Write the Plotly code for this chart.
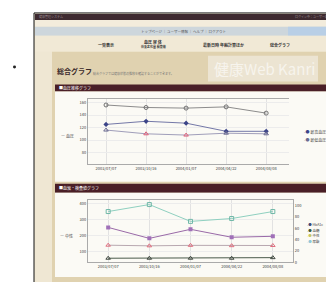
import plotly.graph_objects as go
from plotly.subplots import make_subplots

W, H = 334, 282

# ---- data ----
dates = ["2003/07/07", "2003/10/16", "2004/01/07", "2004/04/22", "2004/08/08"]
bp_top = [156, 152, 151, 153, 143]
bp_high = [125, 130, 127, 114, 114]
bp_low = [116, 110, 108, 111, 110]
bp_left_ticks = [80, 100, 120, 140, 160]
bp_right_ticks = [0, 30, 60, 90, 120]
lab_a = [350, 394, 288, 306, 350]
lab_b = [250, 181, 238, 188, 194]
lab_c = [138, 134, 137, 135, 136]
lab_d = [7, 7, 7, 7, 8]
lab_left_ticks = [100, 200, 300, 400]
lab_right_ticks = [0, 20, 40, 60, 80, 100]
top_legend = ["最高血圧", "最低血圧"]
bot_legend = ["HbA1c", "血糖", "中性", "尿酸"]


def px(x):
    return x / W


def py(y):
    return 1 - y / H


fig = make_subplots(rows=2, cols=1,
                    specs=[[{"secondary_y": True}], [{"secondary_y": True}]])

# top chart
fig.add_trace(go.Scatter(x=dates, y=bp_top, mode="lines+markers",
                         line=dict(color="#8c8c8c", width=1),
                         marker=dict(symbol="circle-open", size=4, color="#707070")),
              row=1, col=1, secondary_y=False)
fig.add_trace(go.Scatter(x=dates, y=bp_high, mode="lines+markers",
                         line=dict(color="#7478a8", width=1),
                         marker=dict(symbol="diamond", size=4, color="#3c4488")),
              row=1, col=1, secondary_y=False)
fig.add_trace(go.Scatter(x=dates, y=bp_low, mode="lines+markers",
                         line=dict(color="#a09eba", width=1),
                         marker=dict(symbol="triangle-up-open", size=4,
                                     color=["#6a6a90", "#e0607a", "#e0607a", "#6a6a90", "#6a6a90"])),
              row=1, col=1, secondary_y=False)

# bottom chart
fig.add_trace(go.Scatter(x=dates, y=lab_a, mode="lines+markers",
                         line=dict(color="#8fd0c0", width=1),
                         marker=dict(symbol="square-open", size=4, color="#70b8a8")),
              row=2, col=1, secondary_y=False)
fig.add_trace(go.Scatter(x=dates, y=lab_b, mode="lines+markers",
                         line=dict(color="#9a6aa8", width=1),
                         marker=dict(symbol="square", size=4, color="#a070b8")),
              row=2, col=1, secondary_y=False)
fig.add_trace(go.Scatter(x=dates, y=lab_c, mode="lines+markers",
                         line=dict(color="#b8a8b0", width=1),
                         marker=dict(symbol="triangle-up-open", size=4, color="#e07080")),
              row=2, col=1, secondary_y=False)
fig.add_trace(go.Scatter(x=dates, y=lab_d, mode="lines+markers",
                         line=dict(color="#4a5a4a", width=1),
                         marker=dict(symbol="triangle-up-open", size=4, color="#404840")),
              row=2, col=1, secondary_y=True)

axfont = dict(size=4, color="#3a3a3a", family="Noto Sans CJK JP")
xax = dict(type="category", showline=True, linecolor="#aaa", mirror=True,
           showgrid=True, gridcolor="#e2e2e2", gridwidth=1, tickfont=axfont,
           ticks="", zeroline=False)
yax = dict(showline=True, linecolor="#aaa", showgrid=True, gridcolor="#ececec",
           tickfont=axfont, ticks="", zeroline=False)

fig.update_layout(
    width=W, height=H, margin=dict(l=0, r=0, t=0, b=0),
    paper_bgcolor="white", plot_bgcolor="rgba(0,0,0,0)", showlegend=False,
    font=dict(family="Noto Sans CJK JP", size=4, color="#444"),
    xaxis=dict(xax, domain=[px(80), px(281)], range=[-0.45, 4.57]),
    yaxis=dict(yax, domain=[py(157), py(92)], range=[62, 165], tickvals=bp_left_ticks),
    yaxis2=dict(yax, showgrid=False, range=[0, 130], tickvals=bp_right_ticks),
    xaxis2=dict(xax, domain=[px(80), px(285)], range=[-0.49, 4.49]),
    yaxis3=dict(yax, domain=[py(256), py(193)], range=[31, 425], tickvals=lab_left_ticks),
    yaxis4=dict(yax, showgrid=False, range=[0, 110.5], tickvals=lab_right_ticks),
)

shapes = []


def rect(x0, y0, x1, y1, fill, line=None, lw=0):
    shapes.append(dict(type="rect", xref="paper", yref="paper",
                       x0=px(x0), x1=px(x1), y0=py(y1), y1=py(y0),
                       fillcolor=fill, line=dict(color=line or fill, width=lw),
                       layer="below"))


rect(26, 5, 325, 277, "#efe7d3", "#111", 1)
rect(27, 6, 325, 12, "#3e2a30")
rect(27, 12, 325, 19, "#f3ecdc")
rect(27, 19, 325, 28, "#cdd6dc")
rect(280, 19, 325, 28, "#b9cfe6")
rect(27, 28, 325, 44, "#f1e9d6")
rect(44, 44, 325, 276, "#e0d2b0")
rect(200, 48, 310, 74, "#ece4d2")
rect(47, 77, 325, 84, "#4a1f27")
rect(47, 84, 322, 175, "#fbfaf5")
rect(47, 177, 325, 186, "#4a1f27")
rect(47, 186, 322, 271, "#fbfaf5")
shapes.append(dict(type="circle", xref="paper", yref="paper",
                   x0=px(5), x1=px(8), y0=py(61), y1=py(58),
                   fillcolor="#222", line=dict(width=0)))

ann = []


def text(x, y, s, size=4, color="#444", anchor="left", bold=False, opacity=1):
    ann.append(dict(xref="paper", yref="paper", x=px(x), y=py(y), text=("<b>%s</b>" % s) if bold else s,
                    showarrow=False, xanchor=anchor, yanchor="middle", opacity=opacity,
                    font=dict(size=size, color=color, family="Noto Sans CJK JP")))


text(29, 8.5, "健康管理システム", 3, "#9a8a90")
text(322, 8.5, "ログイン中：ユーザー様", 3, "#9a8a90", "right")
text(175, 24, "トップページ ｜ ユーザー情報 ｜ ヘルプ ｜ ログアウト", 3.5, "#555", "center")
text(98, 37, "一覧表示", 4, "#333", "center", True)
text(145, 34.5, "血圧 尿 体", 4, "#333", "center", True)
text(145, 39, "体重変化量 検査値", 3, "#333", "center", True)
text(215, 37, "最新日時 年齢計算ほか", 4, "#333", "center", True)
text(272, 37, "総合グラフ", 4, "#333", "center", True)
text(47, 63, "総合グラフ", 7, "#3a2a2a", bold=True)
text(83, 66, "総合グラフでは健康状態の推移を確認することができます。", 3, "#777")
text(256, 61, "健康Web Kanri", 15, "#ffffff", "center", opacity=0.6)
text(49, 80.5, "■血圧推移グラフ", 4, "#ffffff")
text(49, 181.5, "■血液・検査値グラフ", 4, "#ffffff")
text(51, 129, "ー 血圧", 4, "#444")
text(50, 230, "ー 中性", 4, "#444")

# legends
top_colors = ["#3c4488", "#6a6a90"]
for i, name in enumerate(top_legend):
    y = 125 + i * 8
    text(294, y, "<span style='color:%s'>-●</span> %s" % (top_colors[i], name), 4, "#444")
bot_colors = ["#3a4a78", "#3a5a3a", "#c8c860", "#8fc8d8"]
for i, name in enumerate(bot_legend):
    y = 218 + i * 5.6
    text(297, y, "<span style='color:%s'>-●</span> %s" % (bot_colors[i], name), 3.5, "#444")

fig.update_layout(shapes=shapes, annotations=ann)
fig.write_html("out.html")
